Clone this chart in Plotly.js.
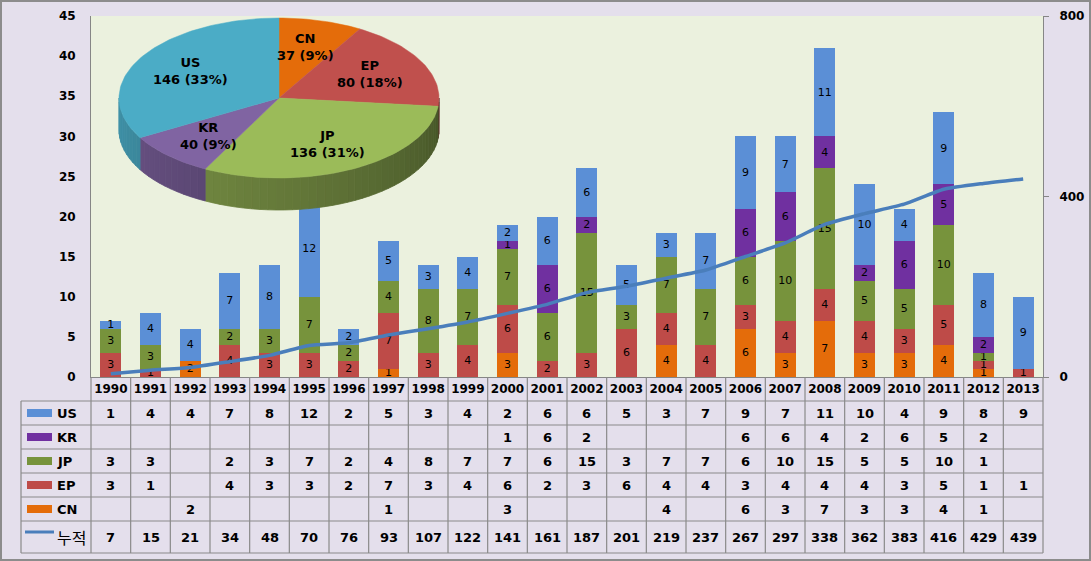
<!DOCTYPE html>
<html><head><meta charset="utf-8">
<script src="https://cdn.plot.ly/plotly-3.0.1.min.js"></script>
<style>body{margin:0;background:#E4DFEC}</style>
</head><body><div id="chart" style="width:1091px;height:561px"></div>
<script>
// ---------- data ----------
const years = ['1990','1991','1992','1993','1994','1995','1996','1997','1998','1999','2000','2001','2002','2003','2004','2005','2006','2007','2008','2009','2010','2011','2012','2013'];
const US = [1,4,4,7,8,12,2,5,3,4,2,6,6,5,3,7,9,7,11,10,4,9,8,9];
const KR = [null,null,null,null,null,null,null,null,null,null,1,6,2,null,null,null,6,6,4,2,6,5,2,null];
const JP = [3,3,null,2,3,7,2,4,8,7,7,6,15,3,7,7,6,10,15,5,5,10,1,null];
const EP = [3,1,null,4,3,3,2,7,3,4,6,2,3,6,4,4,3,4,4,4,3,5,1,1];
const CN = [null,null,2,null,null,null,null,1,null,null,3,null,null,null,4,null,6,3,7,3,3,4,1,null];
const cumulative = [7,15,21,34,48,70,76,93,107,122,141,161,187,201,219,237,267,297,338,362,383,416,429,439];
const lineName = '누적';
const pieLabels = ['CN','EP','JP','KR','US'];
const pieValues = [37,80,136,40,146];
const piePercents = ['9%','18%','31%','9%','33%'];
const tableOrder = ['US','KR','JP','EP','CN'];
const stackOrder = ['CN','EP','JP','KR','US'];

// ---------- styling / geometry ----------
const seriesData = {US, KR, JP, EP, CN};
const barColors = {US:'#5B8FD6', KR:'#7030A0', JP:'#77933C', EP:'#BE4B48', CN:'#E46C0A'};
const pieColors = {CN:'#E46C0A', EP:'#C0504D', JP:'#9BBB59', KR:'#8064A2', US:'#4BACC6'};
const FONT = 'DejaVu Sans, Noto Sans CJK KR, sans-serif';
const PL=91, PR=1043, PT=16, PB=377;
const px = p => (p-PL)/(PR-PL);
const py = p => (PB-p)/(PB-PT);
const colW = (PR-PL)/years.length;

const traces = [];
stackOrder.forEach(k => {
  traces.push({
    type:'bar', x: years, y: seriesData[k], name:k, showlegend:false,
    marker:{color: barColors[k], line:{width:0}},
    text: seriesData[k].map(v => v==null ? '' : String(v)),
    textposition:'inside', insidetextanchor:'middle', textangle:0, constraintext:'none',
    textfont:{family:FONT, size:11, color:'#000'}, hoverinfo:'skip'
  });
});
traces.push({type:'scatter', mode:'lines', x: years, y: cumulative, yaxis:'y2', name: lineName, showlegend:false,
  line:{color:'#4A7EBB', width:3.5, shape:'spline', smoothing:0.5}, hoverinfo:'skip'});

// ---------- 3D-ish pie (computed from pieValues) ----------
const cx=279, cy=98, rx=160, ry=80, depth=32;
const total = pieValues.reduce((a,b)=>a+b,0);
function pt(a, dy){ const r=a*Math.PI/180; return [cx + rx*Math.sin(r), cy - ry*Math.cos(r) + dy]; }
function shade(hex, f){
  const n=parseInt(hex.slice(1),16);
  const c=[(n>>16)&255,(n>>8)&255,n&255].map(v=>Math.round(v*f));
  return 'rgb('+c.join(',')+')';
}
const wallTraces=[], topTraces=[], pieAnn=[];
let acc=0;
pieValues.forEach((v,i)=>{
  const a0 = acc/total*360, a1=(acc+v)/total*360; acc+=v;
  const lab = pieLabels[i], col = pieColors[lab];
  const n = Math.max(2, Math.ceil((a1-a0)/1.5));
  const xs=[cx], ys=[cy];
  for(let j=0;j<=n;j++){ const p=pt(a0+(a1-a0)*j/n,0); xs.push(p[0]); ys.push(p[1]); }
  xs.push(cx); ys.push(cy);
  topTraces.push({type:'scatter', mode:'lines', x:xs, y:ys, xaxis:'x3', yaxis:'y3', fill:'toself',
    fillcolor:col, line:{color:col, width:0.5}, hoverinfo:'skip', showlegend:false});
  const w0=Math.max(a0,90), w1=Math.min(a1,270);
  if(w1>w0){
    const m = Math.max(1, Math.ceil((w1-w0)/3));
    for(let j=0;j<m;j++){
      const b0=w0+(w1-w0)*j/m, b1=w0+(w1-w0)*(j+1)/m;
      const f = 0.45 + 0.4*(((b0+b1)/2)-90)/180;
      const sc = shade(col,f);
      const wx=[], wy=[];
      const k=4;
      for(let q=0;q<=k;q++){ const p=pt(b0+(b1-b0)*q/k,0); wx.push(p[0]); wy.push(p[1]); }
      for(let q=k;q>=0;q--){ const p=pt(b0+(b1-b0)*q/k,depth); wx.push(p[0]); wy.push(p[1]); }
      wx.push(wx[0]); wy.push(wy[0]);
      wallTraces.push({type:'scatter', mode:'lines', x:wx, y:wy, xaxis:'x3', yaxis:'y3', fill:'toself',
        fillcolor:sc, line:{color:sc, width:0.8}, hoverinfo:'skip', showlegend:false});
    }
  }
  const mid=(a0+a1)/2, lp=[cx+0.64*rx*Math.sin(mid*Math.PI/180), cy-0.66*ry*Math.cos(mid*Math.PI/180)];
  pieAnn.push({xref:'x3', yref:'y3', x:lp[0], y:lp[1], showarrow:false,
    text: lab+'<br>'+v+' ('+piePercents[i]+')', font:{family:FONT, size:13, color:'#000', weight:'bold'}, align:'center'});
});
traces.push(...wallTraces, ...topTraces);

// ---------- table (shapes + annotations) ----------
const shapes=[], annotations=[...pieAnn];
const gridCol='#8A8A8A';
const rowLines=[401,425,449,473,497,521,553];
rowLines.forEach(y=>shapes.push({type:'line', xref:'paper', yref:'paper', x0:px(21), x1:px(PR), y0:py(y), y1:py(y), line:{color:gridCol, width:1.2}}));
shapes.push({type:'line', xref:'paper', yref:'paper', x0:px(21), x1:px(21), y0:py(401), y1:py(553), line:{color:gridCol, width:1.2}});
for(let i=0;i<=years.length;i++){
  const x=PL+i*colW;
  shapes.push({type:'line', xref:'paper', yref:'paper', x0:px(x), x1:px(x), y0:py(PB), y1:py(553), line:{color:gridCol, width:1.2}});
}
const rowCenters=[413,437,461,485,509];
tableOrder.forEach((k,r)=>{
  const yc=rowCenters[r];
  shapes.push({type:'rect', xref:'paper', yref:'paper', x0:px(27), x1:px(52), y0:py(yc-4), y1:py(yc+4), fillcolor:barColors[k], line:{width:0}});
  annotations.push({xref:'paper', yref:'paper', x:px(55), y:py(yc), xanchor:'left', yanchor:'middle', showarrow:false,
    text:k, font:{family:FONT, size:13, color:'#000', weight:'bold'}});
  seriesData[k].forEach((v,i)=>{
    if(v==null) return;
    annotations.push({xref:'paper', yref:'paper', x:px(PL+(i+0.5)*colW), y:py(yc), xanchor:'center', yanchor:'middle', showarrow:false,
      text:String(v), font:{family:FONT, size:13, color:'#000', weight:'bold'}});
  });
});
const cumY=537;
shapes.push({type:'line', xref:'paper', yref:'paper', x0:px(25), x1:px(54), y0:py(532), y1:py(532), line:{color:'#4A7EBB', width:3}});
annotations.push({xref:'paper', yref:'paper', x:px(55), y:py(cumY), xanchor:'left', yanchor:'middle', showarrow:false,
  text:lineName, font:{family:'Noto Sans CJK KR, sans-serif', size:16, color:'#000'}});
cumulative.forEach((v,i)=>annotations.push({xref:'paper', yref:'paper', x:px(PL+(i+0.5)*colW), y:py(cumY), xanchor:'center', yanchor:'middle', showarrow:false,
  text:String(v), font:{family:FONT, size:13, color:'#000', weight:'bold'}}));
shapes.push({type:'rect', xref:'paper', yref:'paper', x0:px(1), x1:px(1090), y0:py(1), y1:py(560), line:{color:'#8C8C8C', width:2}, fillcolor:'rgba(0,0,0,0)'});

const layout = {
  width:1091, height:561, margin:{l:PL, r:1091-PR, t:PT, b:561-PB},
  paper_bgcolor:'#E4DFEC', plot_bgcolor:'#EBF1DE',
  barmode:'stack', bargap:0.47, showlegend:false,
  font:{family:FONT, color:'#000'},
  xaxis:{type:'category', showline:true, linecolor:'#868686', ticks:'', showgrid:false,
    tickfont:{family:FONT, size:12, color:'#000', weight:'bold'}, ticklabelstandoff:1, fixedrange:true},
  yaxis:{range:[0,45], dtick:5, showline:true, linecolor:'#868686', ticks:'', showgrid:false, zeroline:false,
    tickfont:{family:FONT, size:12, color:'#000', weight:'bold'}, ticklabelstandoff:12, fixedrange:true},
  yaxis2:{overlaying:'y', side:'right', range:[0,800], dtick:400, showline:true, linecolor:'#868686', ticks:'outside', ticklen:5, tickcolor:'#868686',
    showgrid:false, zeroline:false, tickfont:{family:FONT, size:12, color:'#000', weight:'bold'}, ticklabelstandoff:8, fixedrange:true},
  xaxis3:{overlaying:'x', anchor:'y3', range:[PL,PR], visible:false, fixedrange:true},
  yaxis3:{overlaying:'y', anchor:'x3', range:[PB,PT], visible:false, fixedrange:true},
  shapes, annotations
};
Plotly.newPlot('chart', traces, layout, {displayModeBar:false, staticPlot:true});
</script></body></html>
